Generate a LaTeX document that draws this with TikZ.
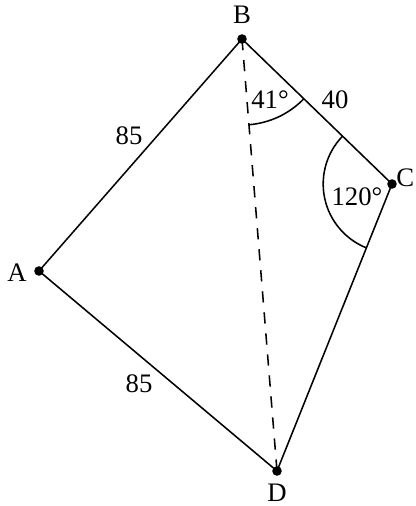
\documentclass[tikz,border=0pt]{standalone}
\usepackage{fontspec}
\setmainfont{Liberation Serif}
\usetikzlibrary{angles}
\begin{document}
\begin{tikzpicture}[x=0.025cm,y=0.025cm,line width=1.1pt,
    lbl/.style={font=\fontsize{19}{22}\selectfont,inner sep=0pt}]
            \useasboundingbox (0,0) rectangle (415,506);
            \coordinate (A) at (39,235); \coordinate (B) at (242,467);
            \coordinate (C) at (392,322); \coordinate (D) at (277,35);
            \draw (B) -- (A) -- (D) -- (C) -- (B);
            \draw[dash pattern=on 8pt off 7pt] (B) -- (D);
            \pic[draw,angle radius=2.15cm] {angle=D--B--C};
            \pic[draw,angle radius=1.72cm] {angle=B--C--D};
            \foreach \p in {A,B,C,D} \fill (\p) circle (0.12cm);
            \node[lbl] (lB) at (242,491) {B};
            \node[lbl] (lA) at (17,233) {A};
            \node[lbl,anchor=east] (lC) at (415,328) {C};
            \node[lbl] (lD) at (277,13) {D};
            \node[lbl] (aB) at (270,406) {41°};
            \node[lbl] (aC) at (357,309) {120°};
            \node[lbl] (sBC) at (335,406) {40};
            \node[lbl] (sAB) at (129,370) {85};
            \node[lbl] (sAD) at (139,122) {85};
        \end{tikzpicture}
\end{document}
